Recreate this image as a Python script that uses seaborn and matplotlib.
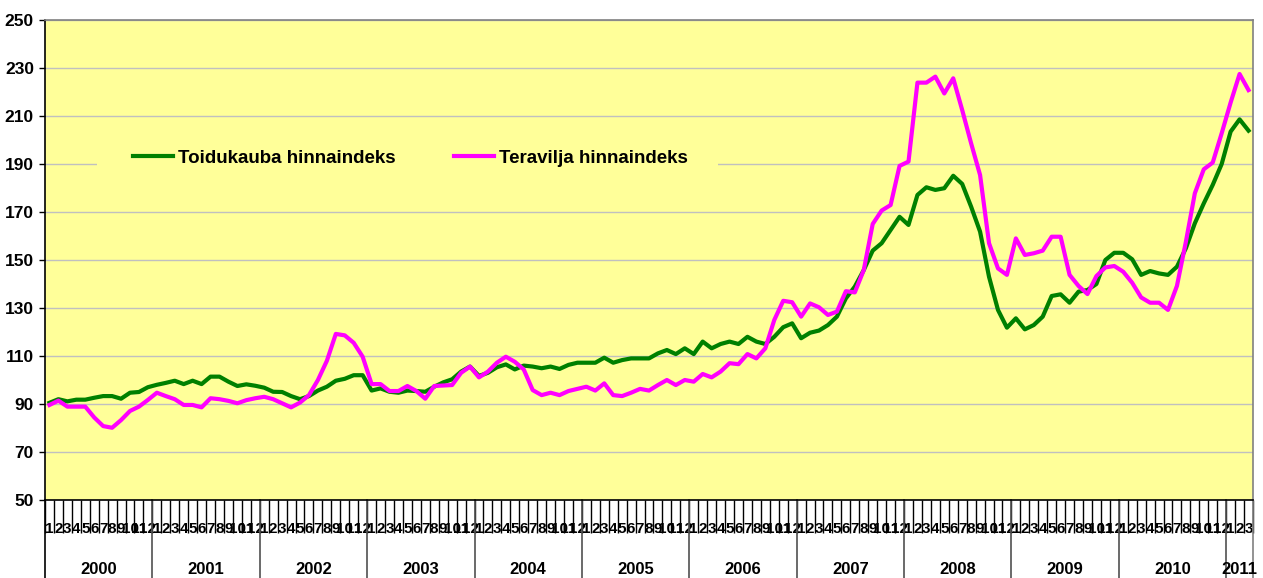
import numpy as np
import pandas as pd
import matplotlib
matplotlib.use("Agg")
import matplotlib.pyplot as plt
import seaborn as sns
from matplotlib.transforms import blended_transform_factory
from matplotlib.patches import Rectangle

years = [2000, 2001, 2002, 2003, 2004, 2005, 2006, 2007, 2008, 2009, 2010, 2011]
months_per_year = [12, 12, 12, 12, 12, 12, 12, 12, 12, 12, 12, 3]

food_index = [
    90.5, 92.0, 91.1, 91.8, 91.8, 92.6, 93.3, 93.3, 92.2, 94.7, 95.0, 97.0,
    98.0, 98.8, 99.7, 98.3, 99.7, 98.3, 101.4, 101.4, 99.3, 97.5, 98.2, 97.6,
    96.8, 95.1, 95.0, 93.3, 92.0, 93.3, 95.6, 97.2, 99.7, 100.5, 102.0, 102.0,
    95.6, 96.5, 95.1, 94.7, 95.6, 95.4, 95.1, 97.2, 99.0, 100.3, 103.5, 105.6,
    101.7, 103.0, 105.3, 106.5, 104.4, 106.0, 105.6, 104.9, 105.6, 104.6, 106.3, 107.2,
    107.2, 107.2, 109.3, 107.2, 108.3, 109.0, 109.0, 109.0, 111.1, 112.5, 110.8, 113.2,
    110.8, 116.0, 113.2, 115.0, 116.0, 115.0, 118.0, 116.0, 115.0, 118.0, 122.0, 123.6,
    117.4, 119.7, 120.6, 122.9, 126.4, 134.0, 138.9, 145.8, 153.9, 157.0, 162.5, 168.0,
    164.6, 177.1, 180.3, 179.2, 179.9, 185.1, 181.7, 172.2, 161.8, 143.0, 129.2, 121.8,
    125.7, 121.1, 122.9, 126.4, 135.0, 135.7, 132.2, 136.8, 137.5, 140.0, 150.0, 153.0,
    153.0, 150.3, 143.8, 145.4, 144.4, 143.8, 147.2, 154.9, 165.3, 173.6, 181.3, 190.0,
    203.5, 208.6, 203.9,
]

grain_index = [
    89.6, 91.4, 88.9, 88.9, 88.9, 84.4, 80.8, 80.1, 83.3, 87.1, 88.9, 91.7,
    94.7, 93.3, 92.0, 89.6, 89.6, 88.6, 92.4, 92.0, 91.3, 90.3, 91.6, 92.4,
    93.0, 92.0, 90.3, 88.6, 90.6, 93.7, 100.0, 108.0, 119.2, 118.6, 115.5, 109.7,
    98.3, 98.3, 95.4, 95.4, 97.5, 95.4, 92.2, 97.5, 97.7, 97.9, 103.0, 105.6,
    101.1, 103.5, 107.2, 109.7, 107.6, 104.4, 95.8, 93.7, 94.7, 93.7, 95.4, 96.3,
    97.2, 95.6, 98.6, 93.7, 93.3, 94.7, 96.3, 95.6, 97.9, 100.0, 97.9, 100.0,
    99.3, 102.5, 101.1, 103.5, 107.0, 106.6, 110.8, 109.0, 113.2, 125.0, 133.0, 132.4,
    126.4, 131.9, 130.3, 127.1, 128.5, 137.0, 136.5, 145.8, 165.0, 170.6, 172.9, 189.2,
    191.0, 223.9, 223.9, 226.4, 219.4, 225.7, 212.5, 198.6, 185.4, 157.0, 146.5, 143.8,
    159.0, 152.1, 152.8, 153.9, 159.7, 159.7, 143.8, 139.2, 135.8, 143.3, 146.9, 147.5,
    145.1, 140.5, 134.4, 132.2, 132.2, 129.2, 139.2, 157.6, 177.8, 187.8, 190.6, 202.8,
    215.6, 227.5, 220.8,
]

series_names = ["Toidukauba hinnaindeks", "Teravilja hinnaindeks"]
series_colors = ["#008000", "#FF00FF"]
y_ticks = [50, 70, 90, 110, 130, 150, 170, 190, 210, 230, 250]

month_labels = [str(m) for n in months_per_year for m in range(1, n + 1)]
n = len(month_labels)

df = pd.DataFrame({
    "pos": list(range(n)) * 2,
    "value": food_index + grain_index,
    "series": [series_names[0]] * n + [series_names[1]] * n,
})

plt.rcParams["font.family"] = ["Liberation Sans", "DejaVu Sans"]
plt.rcParams["font.weight"] = "bold"

W, H = 1263, 578
fig = plt.figure(figsize=(W / 100, H / 100), dpi=100)
L, R, T, B = 45, 1253, 20, 500
ax = fig.add_axes([L / W, 1 - B / H, (R - L) / W, (B - T) / H])
ax.set_facecolor("#FFFF99")

sns.lineplot(data=df, x="pos", y="value", hue="series", hue_order=series_names,
             palette=series_colors, linewidth=3, ax=ax, sort=False)

ax.set_xlim(-0.5, n - 0.5)
ax.set_ylim(y_ticks[0], y_ticks[-1])
ax.set_xlabel("")
ax.set_ylabel("")

# y axis
ax.set_yticks(y_ticks)
ax.set_yticklabels([str(v) for v in y_ticks], fontsize=12.5, fontweight="bold")
ax.tick_params(axis="y", direction="out", length=4, width=1, pad=4, colors="black")
ax.yaxis.grid(True, color="#C0C0C0", linewidth=1)
ax.set_axisbelow(True)

# x axis: month separators (major) and month labels (minor)
ax.set_xticks(np.arange(n + 1) - 0.5)
ax.set_xticklabels([""] * (n + 1))
ax.tick_params(axis="x", which="major", direction="out", length=24, width=1, colors="black")
ax.set_xticks(np.arange(n), minor=True)
ax.set_xticklabels(month_labels, minor=True, fontsize=11, fontweight="bold")
ax.tick_params(axis="x", which="minor", length=0, pad=16)

for side in ["left", "bottom"]:
    ax.spines[side].set_color("black")
    ax.spines[side].set_linewidth(1.2)
for side in ["top", "right"]:
    ax.spines[side].set_color("#808080")
    ax.spines[side].set_linewidth(1.2)

# year labels and separators
trans = blended_transform_factory(ax.transData, ax.transAxes)
y_bottom = -(H - B) / (B - T)
y_label = -(570 - B) / (B - T)
start = 0
bounds = [-0.5]
for yr, cnt in zip(years, months_per_year):
    center = start + (cnt - 1) / 2
    ax.text(center, y_label, str(yr), transform=trans, ha="center", va="center",
            fontsize=12, fontweight="bold")
    start += cnt
    bounds.append(start - 0.5)
for k, b in enumerate(bounds):
    col = "black" if k == 0 else ("#808080" if k == len(bounds) - 1 else "#505050")
    ax.plot([b, b], [0, y_bottom], transform=trans, clip_on=False, color=col, linewidth=1.2)

# legend background (covers the gridline like the reference legend box)
ax.add_patch(Rectangle(((97 - L) / (R - L), 1 - (200 - T) / (B - T)), (718 - 97) / (R - L),
                       (200 - 120) / (B - T), transform=ax.transAxes, facecolor="#FFFF99",
                       edgecolor="none", zorder=1.5))

handles, labels = ax.get_legend_handles_labels()
leg = ax.legend(handles, labels, loc="center left",
                bbox_to_anchor=((133 - L) / (R - L), 1 - (158 - T) / (B - T)),
                ncol=2, frameon=False, handlelength=2.15, handletextpad=0.25,
                columnspacing=3.1, borderpad=0, borderaxespad=0,
                prop={"weight": "bold", "size": 13.5})
for line in leg.get_lines():
    line.set_linewidth(3)

fig.savefig("out.png", dpi=100, facecolor="white")
